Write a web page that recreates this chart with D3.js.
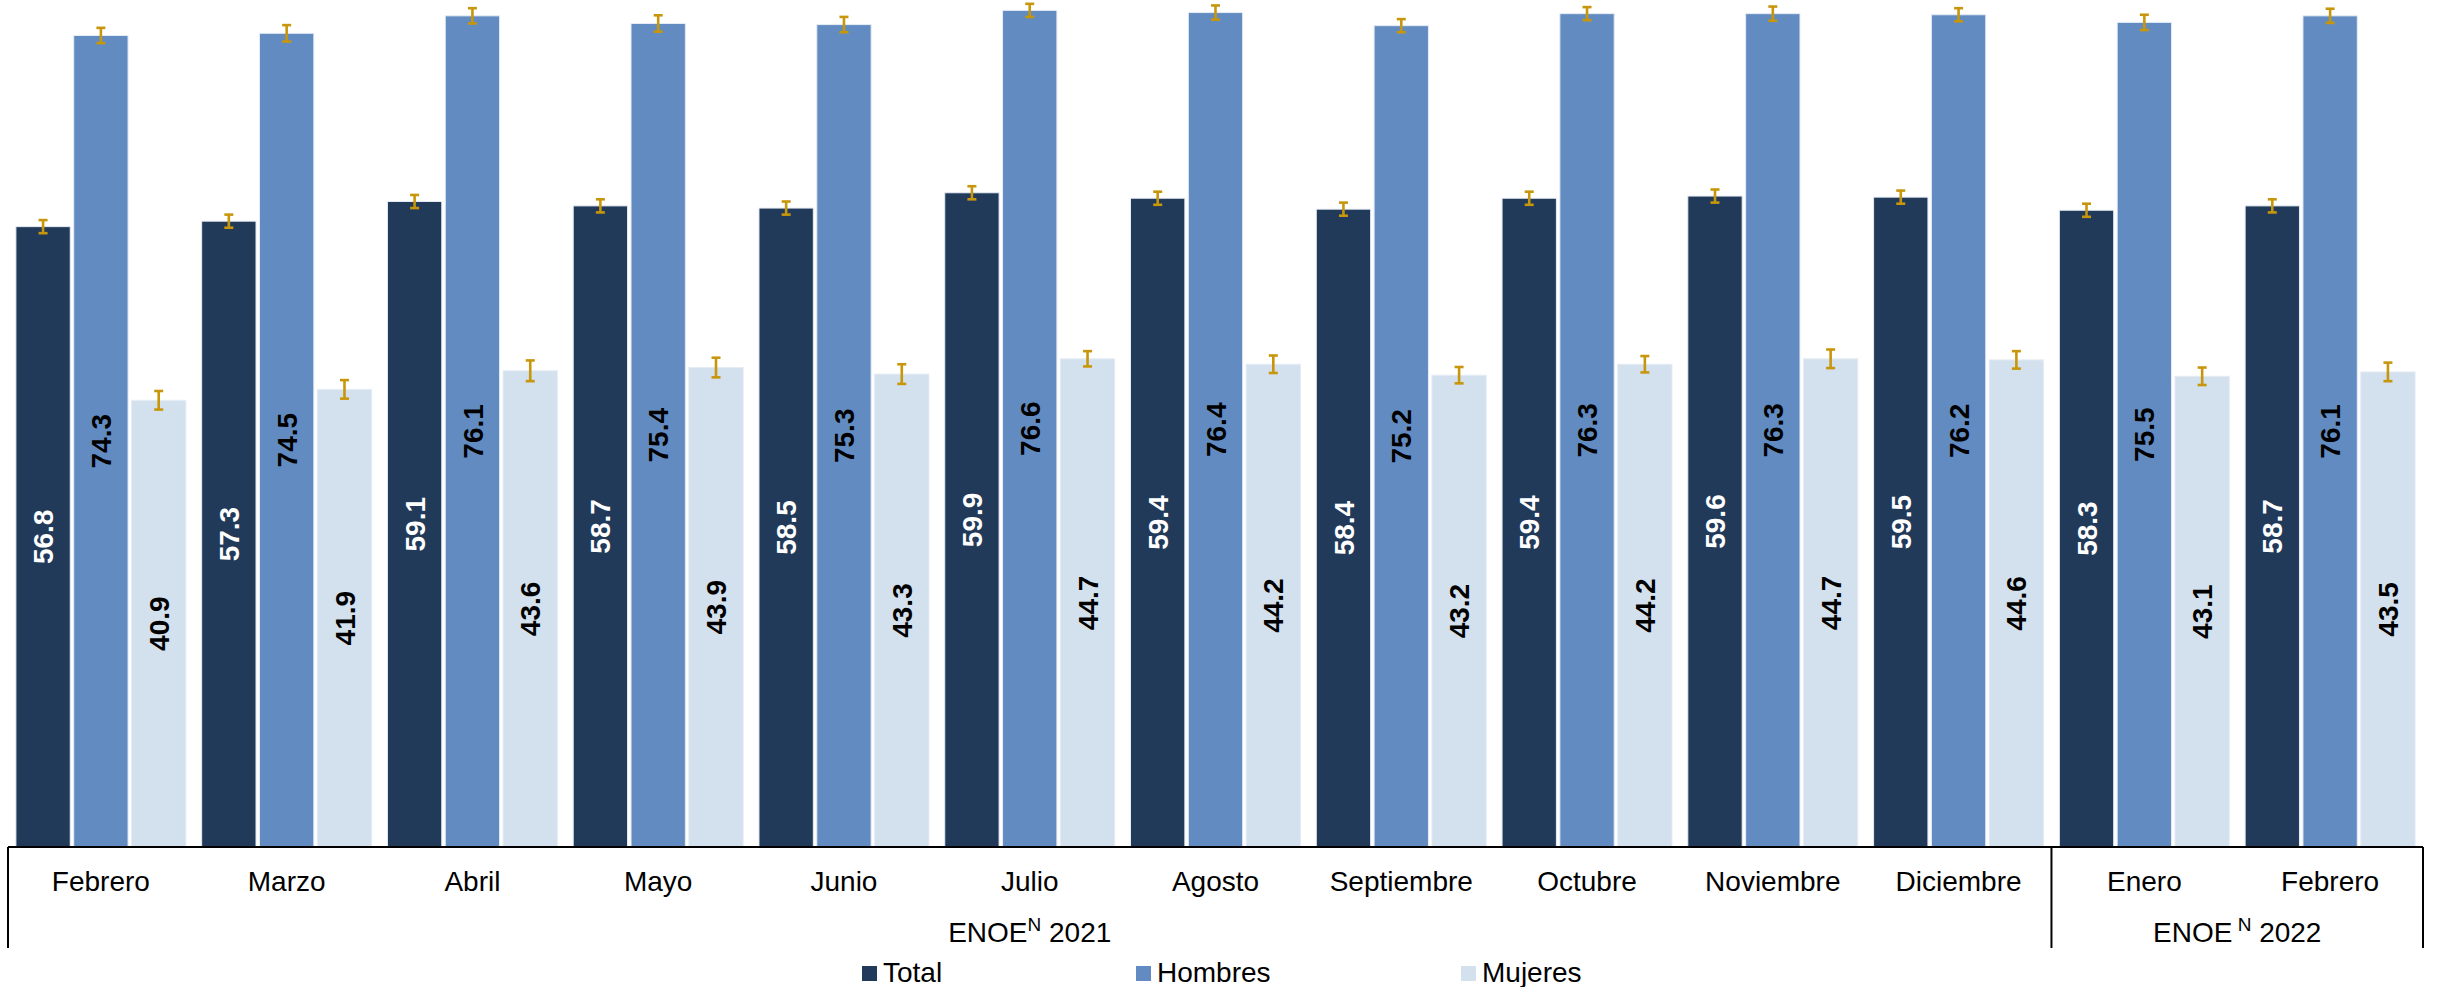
<!DOCTYPE html>
<html>
<head>
<meta charset="utf-8">
<script src="https://cdn.jsdelivr.net/npm/d3@7"></script>
<style>
  html, body { margin: 0; padding: 0; background: #fff; }
  svg { display: block; font-family: "Liberation Sans", Arial, sans-serif; }
</style>
</head>
<body>
<svg id="chart" width="2437" height="987"></svg>
<script>
const months = ["Febrero","Marzo","Abril","Mayo","Junio","Julio","Agosto","Septiembre","Octubre","Noviembre","Diciembre","Enero","Febrero "];
const monthLabels = ["Febrero","Marzo","Abril","Mayo","Junio","Julio","Agosto","Septiembre","Octubre","Noviembre","Diciembre","Enero","Febrero"];
const seriesNames = ["Total","Hombres","Mujeres"];
const total   = [56.8, 57.3, 59.1, 58.7, 58.5, 59.9, 59.4, 58.4, 59.4, 59.6, 59.5, 58.3, 58.7];
const hombres = [74.3, 74.5, 76.1, 75.4, 75.3, 76.6, 76.4, 75.2, 76.3, 76.3, 76.2, 75.5, 76.1];
const mujeres = [40.9, 41.9, 43.6, 43.9, 43.3, 44.7, 44.2, 43.2, 44.2, 44.7, 44.6, 43.1, 43.5];
const errTotal   = [0.6, 0.6, 0.6, 0.6, 0.6, 0.6, 0.6, 0.6, 0.6, 0.6, 0.6, 0.6, 0.6];
const errHombres = [0.7, 0.75, 0.7, 0.75, 0.7, 0.6, 0.65, 0.6, 0.6, 0.65, 0.6, 0.7, 0.65];
const errMujeres = [0.85, 0.85, 0.95, 0.9, 0.9, 0.7, 0.8, 0.75, 0.75, 0.85, 0.8, 0.8, 0.85];
const groups = [
  {label: "2021", start: 0, end: 10},
  {label: "2022", start: 11, end: 12}
];

const colors = {Total: "#223A5A", Hombres: "#628CC1", Mujeres: "#D3E0EE"};
const labelColors = {Total: "#ffffff", Hombres: "#000000", Mujeres: "#000000"};
const valuesBy = {Total: total, Hombres: hombres, Mujeres: mujeres};
const errBy = {Total: errTotal, Hombres: errHombres, Mujeres: errMujeres};

const svg = d3.select("#chart");
const left = 8, right = 2423, baseY = 847;

const x0 = d3.scaleBand().domain(months).range([left, right]).paddingInner(0.085).paddingOuter(0.0425);
const x1 = d3.scaleBand().domain(seriesNames).range([0, x0.bandwidth()]).paddingInner(0.06);
const y = d3.scaleLinear().domain([0, 77.55]).range([baseY, 0]);

const data = [];
months.forEach((m, i) => {
  seriesNames.forEach(s => {
    data.push({m, i, s, v: valuesBy[s][i], e: errBy[s][i]});
  });
});

// bars
svg.append("g").selectAll("rect").data(data).join("rect")
  .attr("x", d => x0(d.m) + x1(d.s))
  .attr("y", d => y(d.v))
  .attr("width", x1.bandwidth())
  .attr("height", d => baseY - y(d.v))
  .attr("fill", d => colors[d.s])
  .attr("stroke", "#e6ecf4")
  .attr("stroke-width", 1);

// error bars
const eb = svg.append("g").attr("stroke", "#C8960A").attr("stroke-width", 2.6).attr("fill", "none");
data.forEach(d => {
  const cx = x0(d.m) + x1(d.s) + x1.bandwidth() / 2;
  const y1 = y(d.v + d.e), y2 = y(d.v - d.e);
  eb.append("line").attr("x1", cx).attr("x2", cx).attr("y1", y1).attr("y2", y2);
  eb.append("line").attr("x1", cx - 4.5).attr("x2", cx + 4.5).attr("y1", y1).attr("y2", y1);
  eb.append("line").attr("x1", cx - 4.5).attr("x2", cx + 4.5).attr("y1", y2).attr("y2", y2);
});

// value labels
svg.append("g").selectAll("text").data(data).join("text")
  .attr("transform", d => {
    const cx = x0(d.m) + x1(d.s) + x1.bandwidth() / 2;
    const cy = (y(d.v) + baseY) / 2;
    return `translate(${cx},${cy}) rotate(-90)`;
  })
  .attr("text-anchor", "middle")
  .attr("dy", "0.36em")
  .attr("font-size", 28)
  .attr("font-weight", "bold")
  .attr("fill", d => labelColors[d.s])
  .text(d => d3.format(".1f")(d.v));

// axis lines
const ax = svg.append("g").attr("stroke", "#000").attr("stroke-width", 2);
ax.append("line").attr("x1", left).attr("x2", right).attr("y1", baseY).attr("y2", baseY);
const bounds = [left, x0(months[11]) - x0.step() * x0.paddingInner() / 2, right];
bounds.forEach(bx => {
  ax.append("line").attr("x1", bx).attr("x2", bx).attr("y1", baseY).attr("y2", 948);
});

// category labels
svg.append("g").selectAll("text").data(months).join("text")
  .attr("x", (d) => x0(d) + x0.bandwidth() / 2)
  .attr("y", 891)
  .attr("text-anchor", "middle")
  .attr("font-size", 28)
  .attr("fill", "#000")
  .text((d, i) => monthLabels[i]);

// group labels
groups.forEach((g, gi) => {
  const gx0 = gi === 0 ? bounds[0] : bounds[1];
  const gx1 = gi === 0 ? bounds[1] : bounds[2];
  const t = svg.append("text")
    .attr("x", (gx0 + gx1) / 2)
    .attr("y", 942)
    .attr("text-anchor", "middle")
    .attr("font-size", 28)
    .attr("fill", "#000");
  t.append("tspan").text("ENOE");
  t.append("tspan").attr("dy", -11).attr("font-size", 19).text(gi === 0 ? "N" : " N");
  t.append("tspan").attr("dy", 11).text(" " + g.label);
});

// legend
const legendX = [862, 1136, 1461];
const lg = svg.append("g");
seriesNames.forEach((s, i) => {
  lg.append("rect").attr("x", legendX[i]).attr("y", 966).attr("width", 15).attr("height", 15).attr("fill", colors[s]);
  lg.append("text").attr("x", legendX[i] + 21).attr("y", 982).attr("font-size", 28).attr("fill", "#000").text(s);
});
</script>
</body>
</html>
